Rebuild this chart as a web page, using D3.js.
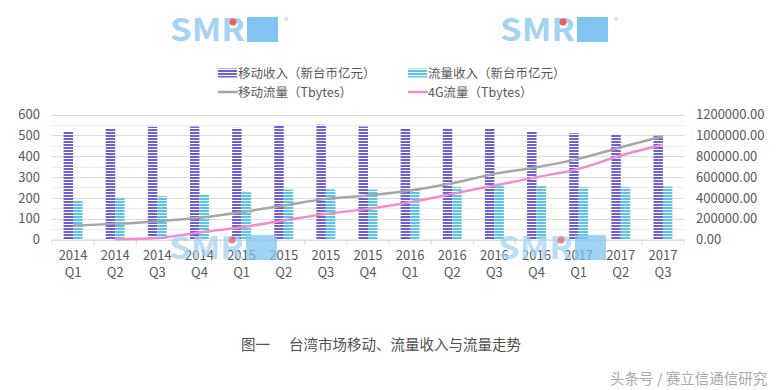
<!DOCTYPE html>
<html><head><meta charset="utf-8">
<script src="https://cdn.jsdelivr.net/npm/d3@7"></script>
<style>body{margin:0;background:#fff}svg{display:block}text{font-family:"Noto Sans CJK SC","Noto Sans",sans-serif}</style>
</head><body><svg id="c" width="779" height="390"></svg>
<script>
const years = ["2014","2014","2014","2014","2015","2015","2015","2015","2016","2016","2016","2016","2017","2017","2017"];
const quarters = ["Q1","Q2","Q3","Q4","Q1","Q2","Q3","Q4","Q1","Q2","Q3","Q4","Q1","Q2","Q3"];
const categories = years.map((y,i)=>y+" "+quarters[i]);
const mobileRevenue = [520,531,541,542,536,546,551,542,531,531,531,518,510,504,498];
const dataRevenue = [188,198,208,214,227,240,241,240,243,251,256,256,251,251,254];
const mobileTraffic = [135000,150000,176000,208000,262000,326000,390000,422000,470000,540000,630000,694000,774000,886000,992000];
const traffic4G = [null,2000,14000,68000,118000,182000,246000,294000,358000,438000,518000,598000,678000,806000,909000];
const leftTicks = [0,100,200,300,400,500,600];
const rightTicks = [0,200000,400000,600000,800000,1000000,1200000];
const seriesNames = ["移动收入（新台币亿元）","流量收入（新台币亿元）","移动流量（Tbytes）","4G流量（Tbytes）"];
const colors = {purple:"#6e5fd9", cyan:"#57c4ee", gray:"#a6a6a6", pink:"#f08dcf"};

const svg = d3.select("#c");
const defs = svg.append("defs");
function stripe(id,col){
  const p = defs.append("pattern").attr("id",id).attr("patternUnits","userSpaceOnUse").attr("width",4).attr("height",3);
  p.append("rect").attr("width",4).attr("height",3).attr("fill","#fff");
  p.append("rect").attr("width",4).attr("height",2).attr("fill",col);
}
stripe("pp",colors.purple); stripe("pc",colors.cyan);

const L=52,R=684,T=114.5,B=239.5;
const x = d3.scaleBand().domain(categories).range([L,R]).padding(0);
const x1 = d3.scaleBand().domain(["m","d"]).range([x.bandwidth()*0.275, x.bandwidth()*0.725]);
const yL = d3.scaleLinear().domain([0,600]).range([B,T]);
const yR = d3.scaleLinear().domain([0,1200000]).range([B,T]);

// gridlines every 50
const grid = d3.range(0,601,50);
svg.append("g").selectAll("line").data(grid).join("line")
  .attr("x1",L).attr("x2",R).attr("y1",d=>Math.round(yL(d))+0.5).attr("y2",d=>Math.round(yL(d))+0.5)
  .attr("stroke",d=>d%100===0?"#dcdcdc":"#ececec").attr("stroke-width",1);

// x axis
const xa = svg.append("g").attr("transform",`translate(0,${B})`).call(d3.axisBottom(x).tickSize(0).tickFormat(""));
xa.select(".domain").attr("stroke","#d9d9d9");
svg.append("g").selectAll("line").data(d3.range(categories.length+1)).join("line")
  .attr("x1",i=>L+i*x.step()).attr("x2",i=>L+i*x.step()).attr("y1",B).attr("y2",B+5).attr("stroke","#d9d9d9");
const xl = svg.append("g").selectAll("text").data(categories).join("text")
  .attr("x",d=>x(d)+x.bandwidth()/2).attr("text-anchor","middle").attr("fill","#595959").attr("font-size",13);
xl.append("tspan").attr("x",d=>x(d)+x.bandwidth()/2).attr("y",260).text((d,i)=>years[i]);
xl.append("tspan").attr("x",d=>x(d)+x.bandwidth()/2).attr("y",277).text((d,i)=>quarters[i]);

// y axes labels
const yla = svg.append("g").attr("transform",`translate(40,0)`).call(d3.axisLeft(yL).tickValues(leftTicks).tickSize(0).tickPadding(0));
yla.select(".domain").remove();
yla.selectAll("text").attr("fill","#595959").attr("font-size",13).attr("font-family","'Noto Sans CJK SC',sans-serif");
const yra = svg.append("g").attr("transform",`translate(696,0)`).call(d3.axisRight(yR).tickValues(rightTicks).tickSize(0).tickPadding(0).tickFormat(d3.format(".2f")));
yra.select(".domain").remove();
yra.selectAll("text").attr("fill","#595959").attr("font-size",13).attr("font-family","'Noto Sans CJK SC',sans-serif");

// bars
const g = svg.append("g");
g.selectAll("rect.m").data(mobileRevenue).join("rect").attr("class","m")
  .attr("x",(d,i)=>x(categories[i])+x1("m")).attr("width",x1.bandwidth())
  .attr("y",d=>yL(d)).attr("height",d=>yL(0)-yL(d)).attr("fill","url(#pp)");
g.selectAll("rect.d").data(dataRevenue).join("rect").attr("class","d")
  .attr("x",(d,i)=>x(categories[i])+x1("d")).attr("width",x1.bandwidth())
  .attr("y",d=>yL(d)).attr("height",d=>yL(0)-yL(d)).attr("fill","url(#pc)");

// lines
const line = d3.line().defined(d=>d!=null).x((d,i)=>x(categories[i])+x.bandwidth()/2).y(d=>yR(d)).curve(d3.curveMonotoneX);
svg.append("path").datum(mobileTraffic).attr("d",line).attr("fill","none").attr("stroke",colors.gray).attr("stroke-width",2.5);
svg.append("path").datum(traffic4G).attr("d",line).attr("fill","none").attr("stroke",colors.pink).attr("stroke-width",2.5);

// legend
const leg = [
  {x:218,y:73,type:"bar",fill:"url(#pp)",name:seriesNames[0]},
  {x:408,y:73,type:"bar",fill:"url(#pc)",name:seriesNames[1]},
  {x:218,y:92,type:"line",col:colors.gray,name:seriesNames[2]},
  {x:408,y:92,type:"line",col:colors.pink,name:seriesNames[3]}
];
const lg = svg.append("g").selectAll("g").data(leg).join("g").attr("transform",d=>`translate(${d.x},${d.y})`);
lg.filter(d=>d.type==="bar").append("rect").attr("x",0).attr("y",-4.5).attr("width",19).attr("height",9).attr("fill",d=>d.fill);
lg.filter(d=>d.type==="line").append("line").attr("x1",0).attr("x2",20).attr("y1",0).attr("y2",0).attr("stroke",d=>d.col).attr("stroke-width",2.5);
lg.append("text").attr("x",20).attr("y",4.5).attr("font-size",12.5).attr("fill","#595959").text(d=>d.name);

// title
svg.append("text").attr("x",241).attr("y",350).attr("font-size",14.5).attr("fill","#505050").text("图一");
svg.append("text").attr("x",289).attr("y",350).attr("font-size",14.5).attr("fill","#505050").text("台湾市场移动、流量收入与流量走势");

// watermarks
function logo(x0,y0,op){
  const w = svg.append("g").attr("transform",`translate(${x0},${y0})`).attr("opacity",op);
  w.append("rect").attr("x",77).attr("y",3).attr("width",31).attr("height",25).attr("fill","#80c4ef");
  w.append("text").attr("x",0).attr("y",27).attr("font-size",31).attr("font-weight","bold").attr("font-family","'DejaVu Sans',sans-serif")
    .attr("textLength",75).attr("lengthAdjust","spacingAndGlyphs")
    .attr("fill","#a3d3f3").text("SMR");
  w.append("circle").attr("cx",63).attr("cy",8).attr("r",3.5).attr("fill","#f05a5a");
  return w;
}
const w1 = logo(170,14,1); w1.append("text").attr("x",114).attr("y",10).attr("font-size",9).attr("fill","#c8c8c8").text("®");
const w2 = logo(500,14,1); w2.append("text").attr("x",114).attr("y",10).attr("font-size",9).attr("fill","#c8c8c8").text("®");
logo(169,232,0.75); logo(498,232,0.75);
svg.append("text").attr("x",610).attr("y",384).attr("font-size",14.5).attr("fill","#a8a8a8").text("头条号 / 赛立信通信研究");
</script></body></html>
